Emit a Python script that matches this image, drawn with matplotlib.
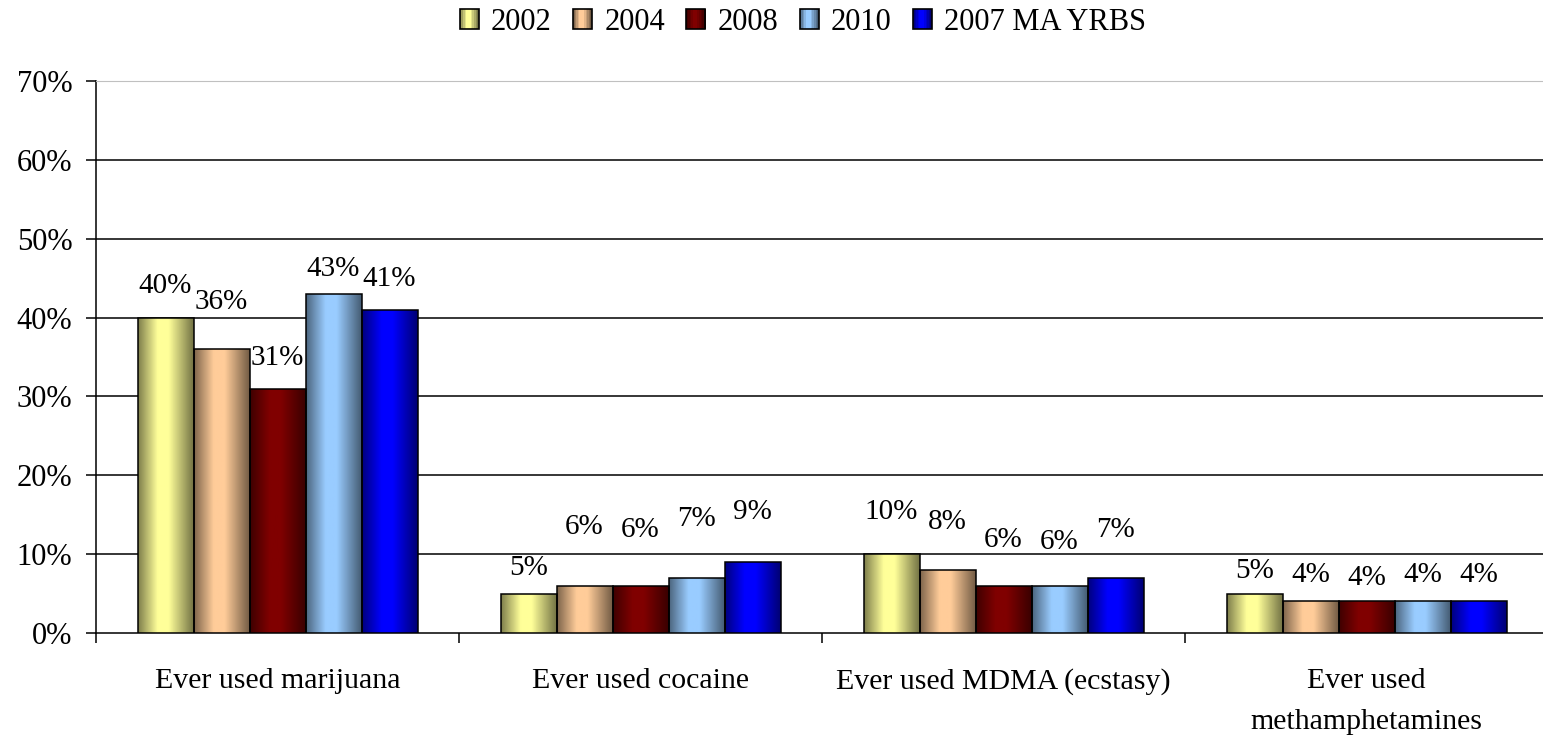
import numpy as np
import matplotlib.pyplot as plt
from matplotlib.patches import Rectangle
from matplotlib.legend_handler import HandlerBase
from matplotlib.colors import to_rgb

plt.rcParams["font.family"] = ["Liberation Serif", "DejaVu Serif"]

categories = ["Ever used marijuana", "Ever used cocaine",
              "Ever used MDMA (ecstasy)", "Ever used\nmethamphetamines"]
series_names = ["2002", "2004", "2008", "2010", "2007 MA YRBS"]
series_colors = ["#FFFF99", "#FFCC99", "#800000", "#99CCFF", "#0000FF"]

v2002 = [40, 5, 10, 5]
v2004 = [36, 6, 8, 4]
v2008 = [31, 6, 6, 4]
v2010 = [43, 7, 6, 4]
v_yrbs = [41, 9, 7, 4]
values = [v2002, v2004, v2008, v2010, v_yrbs]

# gap (px) between bar top and label, as placed in the original
label_gap = [
    [19, 13, 29, 10],
    [34, 46, 35, 13],
    [18, 43, 33, 10],
    [12, 46, 31, 13],
    [18, 37, 35, 13],
]

yticks = [0, 10, 20, 30, 40, 50, 60, 70]


def shade(color, n=64):
    # Excel-style horizontal gradient: dark edges, light band left of centre
    t = np.linspace(0, 1, n)
    f = np.where(t < 0.35, 0.5 + 0.5 * t / 0.35,
                 np.where(t < 0.55, 1.0, 1.0 - 0.55 * (t - 0.55) / 0.45))
    rgb = np.array(to_rgb(color))
    return (rgb[None, :] * f[:, None])[None, :, :]


class GradientHandler(HandlerBase):
    def create_artists(self, legend, orig_handle, xdescent, ydescent,
                       width, height, fontsize, trans):
        n = 12
        arts = []
        g = shade(orig_handle.get_facecolor(), n)[0]
        for i in range(n):
            arts.append(Rectangle((-xdescent + width * i / n, -ydescent), width / n + 0.3,
                                  height, facecolor=g[i], edgecolor="none", transform=trans))
        arts.append(Rectangle((-xdescent, -ydescent), width, height, facecolor="none",
                              edgecolor="black", lw=1.2, transform=trans))
        return arts


fig = plt.figure(figsize=(15.43, 7.42), dpi=100)
ax = fig.add_axes([96 / 1543, 109 / 742, 1452 / 1543, 552 / 742])

n = len(series_names)
width = 56 / 363
x = np.arange(len(categories))
for i, (name, vals, col) in enumerate(zip(series_names, values, series_colors)):
    pos = x + (i - (n - 1) / 2) * width
    bars = ax.bar(pos, vals, width, facecolor="none", edgecolor="black", lw=1.1,
                  zorder=4, label=name)
    for b, v, gap in zip(bars, vals, label_gap[i]):
        img = ax.imshow(shade(col), extent=[b.get_x(), b.get_x() + b.get_width(), 0, v],
                        aspect="auto", zorder=3, interpolation="bilinear")
        img.set_clip_path(b)
        ax.annotate(f"{v}%", (b.get_x() + b.get_width() / 2, v),
                    xytext=(0, gap * 0.72), textcoords="offset points",
                    ha="center", va="bottom", fontsize=21, zorder=5)

ax.set_xlim(-0.5, len(categories) - 0.5)
ax.set_ylim(0, 70)
ax.set_yticks(yticks)
ax.set_yticklabels([f"{t}%" for t in yticks], fontsize=22)
ax.tick_params(axis="y", length=7, width=1.1, pad=10)

ax.set_xticks(np.arange(len(categories) + 1) - 0.5)
ax.set_xticklabels([])
ax.set_xticks(x, minor=True)
ax.set_xticklabels(categories, minor=True, fontsize=21.5, linespacing=1.75)
ax.tick_params(axis="x", which="major", length=7, width=1.1)
ax.tick_params(axis="x", which="minor", length=0, pad=25)

for t in yticks[1:-1]:
    ax.axhline(t, color="black", lw=1.1, zorder=1)
ax.spines["top"].set_color("#c0c0c0")
ax.spines["right"].set_visible(False)
ax.spines["left"].set_linewidth(1.1)
ax.spines["bottom"].set_linewidth(1.1)

handles = [Rectangle((0, 0), 1, 1, facecolor=c) for c in series_colors]
fig.legend(handles, series_names, loc="center", bbox_to_anchor=(803 / 1543, 1 - 22 / 742),
           ncol=5, frameon=False, fontsize=22, handlelength=0.62, handleheight=0.62,
           handletextpad=0.4, columnspacing=0.7,
           handler_map={Rectangle: GradientHandler()})

fig.savefig("out.png", dpi=100)
